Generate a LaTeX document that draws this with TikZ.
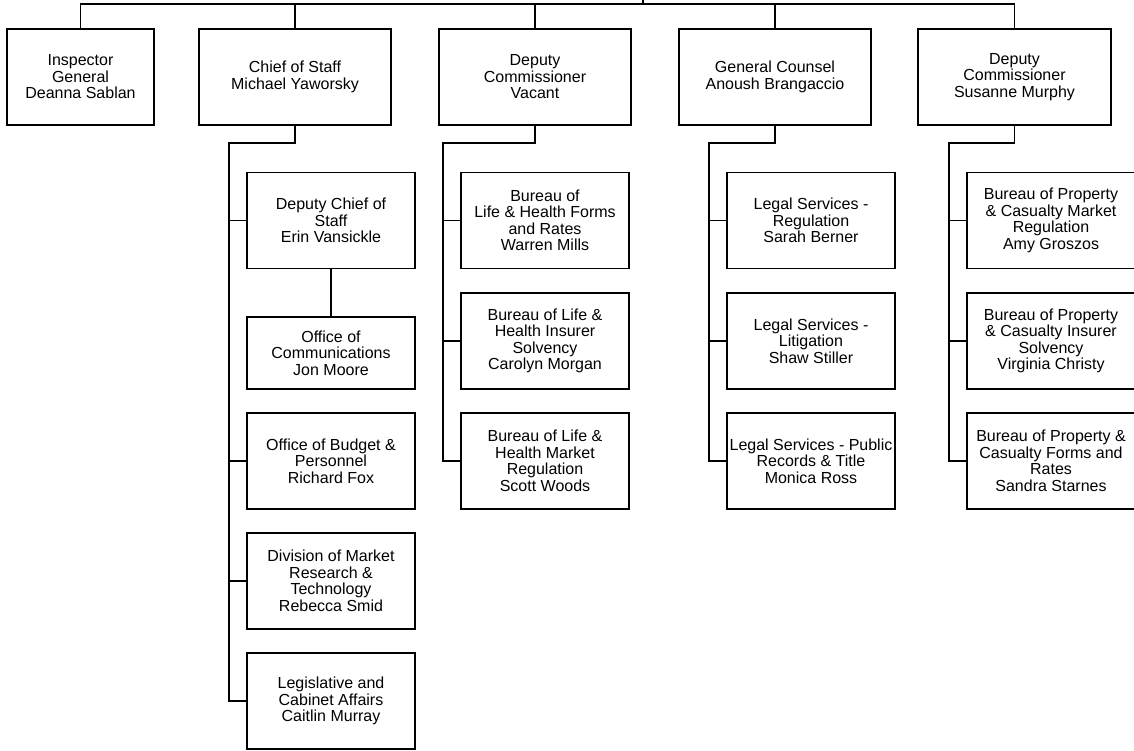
\documentclass[tikz,border=0pt]{standalone}
\usepackage{fontspec}
\setmainfont{Liberation Sans}
\usetikzlibrary{positioning}

\begin{document}
\begin{tikzpicture}[x=1pt, y=-1pt, line width=1.8pt,
  unit/.style={draw, fill=white, line width=1.8pt, minimum width=168pt, minimum height=96pt,
    inner sep=1pt, align=center, font=\fontsize{16}{16.5}\selectfont},
  head/.style={unit, minimum width=192pt},
  link/.style={draw, line width=1.8pt}]

\useasboundingbox (0,0) rectangle (1134,751);

% Top row
\coordinate (top) at (643,-5);
\node[head, minimum width=147pt] (inspector) at (80.5,77) {Inspector\\General\\Deanna Sablan};
\node[head] (chief) at (295,77) {Chief of Staff\\Michael Yaworsky};
\node[head] (deputyvac) at (535,77) {Deputy\\Commissioner\\Vacant};
\node[head] (counsel) at (775,77) {General Counsel\\Anoush Brangaccio};
\node[head, minimum width=193pt] (deputysm) at (1014.5,77) {Deputy\\Commissioner\\Susanne Murphy};

% Chief of Staff units
\node[unit] (dchief) at (331,220.5) {Deputy Chief of\\Staff\\Erin Vansickle};
\node[unit, minimum height=72pt] (comms) at (331,353) {Office of\\Communications\\Jon Moore};
\node[unit] (budget) at (331,461) {Office of Budget \&\\Personnel\\Richard Fox};
\node[unit] (research) at (331,581) {Division of Market\\Research \&\\Technology\\Rebecca Smid};
\node[unit] (legis) at (331,701) {Legislative and\\Cabinet Affairs\\Caitlin Murray};

% Deputy Commissioner (vacant) units
\node[unit] (lhforms) at (545,220.5) {Bureau of\\Life \& Health Forms\\and Rates\\Warren Mills};
\node[unit] (lhsolv) at (545,341) {Bureau of Life \&\\Health Insurer\\Solvency\\Carolyn Morgan};
\node[unit] (lhmarket) at (545,461) {Bureau of Life \&\\Health Market\\Regulation\\Scott Woods};

% General Counsel units
\node[unit] (legreg) at (811,220.5) {Legal Services -\\Regulation\\Sarah Berner};
\node[unit] (leglit) at (811,341) {Legal Services -\\Litigation\\Shaw Stiller};
\node[unit] (legrec) at (811,461) {Legal Services - Public\\Records \& Title\\Monica Ross};

% Deputy Commissioner (Murphy) units
\node[unit] (pcmarket) at (1051,220.5) {Bureau of Property\\\& Casualty Market\\Regulation\\Amy Groszos};
\node[unit] (pcsolv) at (1051,341) {Bureau of Property\\\& Casualty Insurer\\Solvency\\Virginia Christy};
\node[unit] (pcforms) at (1051,461) {Bureau of Property \&\\Casualty Forms and\\Rates\\Sandra Starnes};

% Top connector
\coordinate (bar) at (643,4);
\draw[link] (top) -- (bar);
\draw[link] (inspector.north) |- (bar);
\draw[link] (deputysm.north) |- (bar);
\draw[link] (chief.north) -- (chief.north |- bar);
\draw[link] (deputyvac.north) -- (deputyvac.north |- bar);
\draw[link] (counsel.north) -- (counsel.north |- bar);

% Trunks
\coordinate (chieftrunk) at (229,143);
\coordinate (vactrunk) at (443,143);
\coordinate (counseltrunk) at (709,143);
\coordinate (smtrunk) at (949,143);
\draw[link] (chief.south) |- (chieftrunk) |- (legis.west);
\draw[link] (deputyvac.south) |- (vactrunk) |- (lhmarket.west);
\draw[link] (counsel.south) |- (counseltrunk) |- (legrec.west);
\draw[link] (deputysm.south) |- (smtrunk) |- (pcforms.west);

% Branches
\foreach \u in {dchief, budget, research}
  \draw[link] (chieftrunk |- \u.west) -- (\u.west);
\foreach \u in {lhforms, lhsolv}
  \draw[link] (vactrunk |- \u.west) -- (\u.west);
\foreach \u in {legreg, leglit}
  \draw[link] (counseltrunk |- \u.west) -- (\u.west);
\foreach \u in {pcmarket, pcsolv}
  \draw[link] (smtrunk |- \u.west) -- (\u.west);
\draw[link] (dchief.south) -- (comms.north);

\end{tikzpicture}
\end{document}
